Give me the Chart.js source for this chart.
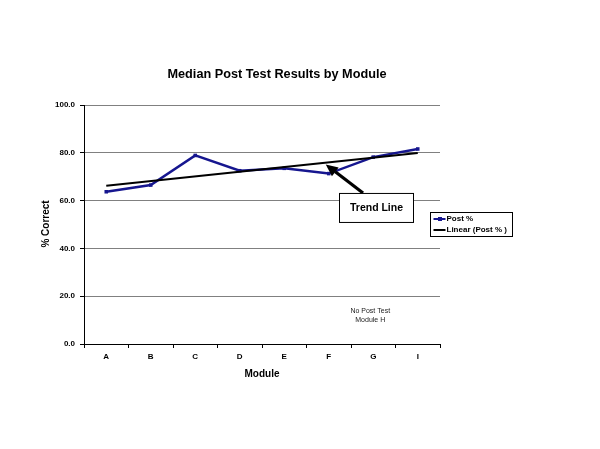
<!DOCTYPE html>
<html>
<head>
<meta charset="utf-8">
<script src="https://cdn.jsdelivr.net/npm/chart.js@4"></script>
<style>
html,body{margin:0;padding:0;background:#fff;}
#wrap{width:600px;height:449px;position:relative;}
</style>
</head>
<body>
<div id="wrap"><canvas id="c" width="600" height="449"></canvas></div>
<script>
const categories = ['A','B','C','D','E','F','G','I'];
const postPct = [63.7, 66.5, 78.9, 72.5, 73.5, 71.3, 78.2, 81.6];
const trendPct = [66.2, null, null, null, null, null, null, 79.9];
const yTicks = [0, 20, 40, 60, 80, 100];
const titleText = 'Median Post Test Results by Module';
const xTitle = 'Module';
const yTitle = '% Correct';
const seriesNames = ['Post %', 'Linear (Post % )'];
const FONT = '"Liberation Sans", Arial, sans-serif';
const SERIES_COLOR = '#16168f';

const overlay = {
  id: 'overlay',
  afterDraw(chart) {
    const ctx = chart.ctx;
    const a = chart.chartArea;
    const xs = chart.scales.x, ys = chart.scales.y;
    ctx.save();
    // title
    ctx.fillStyle = '#000';
    ctx.font = 'bold 12.7px ' + FONT;
    ctx.textAlign = 'center';
    ctx.textBaseline = 'middle';
    ctx.fillText(titleText, 277, 74);
    // axis titles
    ctx.font = 'bold 10px ' + FONT;
    ctx.fillText(xTitle, (a.left + a.right) / 2, 374);
    ctx.save();
    ctx.translate(46, 224);
    ctx.rotate(-Math.PI / 2);
    ctx.fillText(yTitle, 0, 0);
    ctx.restore();
    // note text
    ctx.font = '7px ' + FONT;
    ctx.fillStyle = '#222';
    const gx = xs.getPixelForValue(6) - 3;
    ctx.fillText('No Post Test', gx, ys.getPixelForValue(13.8));
    ctx.fillText('Module H', gx, ys.getPixelForValue(10.1));
    // arrow
    const fx = xs.getPixelForValue(5), gxx = xs.getPixelForValue(6);
    const tipX = fx - 3, tipY = ys.getPixelForValue(75.1);
    const tailX = fx + (gxx - fx) * 0.77, tailY = ys.getPixelForValue(63.2);
    const ang = Math.atan2(tipY - tailY, tipX - tailX);
    const hl = 12, hw = 5.5;
    const bx = tipX - hl * Math.cos(ang), by = tipY - hl * Math.sin(ang);
    ctx.strokeStyle = '#000';
    ctx.lineWidth = 3.2;
    ctx.beginPath();
    ctx.moveTo(tailX, tailY);
    ctx.lineTo(bx, by);
    ctx.stroke();
    ctx.fillStyle = '#000';
    ctx.beginPath();
    ctx.moveTo(tipX, tipY);
    ctx.lineTo(bx + hw * Math.sin(ang), by - hw * Math.cos(ang));
    ctx.lineTo(bx - hw * Math.sin(ang), by + hw * Math.cos(ang));
    ctx.closePath();
    ctx.fill();
    // text box
    const boxL = 339.5, boxT = tailY + 0.5, boxW = 74, boxH = 29;
    ctx.fillStyle = '#fff';
    ctx.fillRect(boxL, boxT, boxW, boxH);
    ctx.strokeStyle = '#000';
    ctx.lineWidth = 1;
    ctx.strokeRect(boxL, boxT, boxW, boxH);
    ctx.fillStyle = '#000';
    ctx.font = 'bold 10.5px ' + FONT;
    ctx.textAlign = 'center';
    ctx.fillText('Trend Line', boxL + boxW / 2, boxT + boxH / 2 + 0.5);
    // legend
    const lx = 430.5, ly = 212.5, lw = 82, lh = 24;
    ctx.fillStyle = '#fff';
    ctx.fillRect(lx, ly, lw, lh);
    ctx.strokeStyle = '#000';
    ctx.strokeRect(lx, ly, lw, lh);
    ctx.font = 'bold 8px ' + FONT;
    ctx.textAlign = 'left';
    ctx.fillStyle = '#000';
    const rows = [ly + 6.5, ly + 17.5];
    ctx.strokeStyle = SERIES_COLOR;
    ctx.lineWidth = 2;
    ctx.beginPath(); ctx.moveTo(lx + 3, rows[0]); ctx.lineTo(lx + 15, rows[0]); ctx.stroke();
    ctx.fillStyle = SERIES_COLOR;
    ctx.fillRect(lx + 7.5, rows[0] - 2, 4, 4);
    ctx.fillStyle = '#000';
    ctx.fillText(seriesNames[0], lx + 16, rows[0]);
    ctx.strokeStyle = '#000';
    ctx.beginPath(); ctx.moveTo(lx + 3, rows[1]); ctx.lineTo(lx + 15, rows[1]); ctx.stroke();
    ctx.fillText(seriesNames[1], lx + 16, rows[1]);
    ctx.restore();
  }
};

new Chart(document.getElementById('c'), {
  type: 'line',
  data: {
    labels: categories,
    datasets: [
      {
        label: seriesNames[0],
        data: postPct,
        borderColor: SERIES_COLOR,
        backgroundColor: SERIES_COLOR,
        borderWidth: 2.5,
        pointStyle: 'rect',
        pointRadius: 2.5,
        pointBorderWidth: 0,
        tension: 0,
        order: 2
      },
      {
        label: seriesNames[1],
        data: trendPct,
        spanGaps: true,
        borderColor: '#000',
        borderWidth: 2,
        pointRadius: 0,
        tension: 0,
        order: 1
      }
    ]
  },
  options: {
    responsive: false,
    animation: false,
    events: [],
    layout: { padding: { left: 40, right: 160, top: 105, bottom: 65 } },
    plugins: { legend: { display: false }, title: { display: false }, tooltip: { enabled: false } },
    scales: {
      x: {
        offset: true,
        grid: { offset: true, drawOnChartArea: false, drawTicks: true, tickLength: 4, color: '#000' },
        border: { color: '#000', width: 1 },
        ticks: { color: '#000', font: { family: FONT, size: 8, weight: 'bold' }, padding: 4, maxRotation: 0 },
        afterFit(s) { s.height = 40; }
      },
      y: {
        min: 0, max: 100,
        afterBuildTicks(s) { s.ticks = yTicks.map(v => ({ value: v })); },
        grid: { color: '#808080', tickColor: '#000', tickLength: 4, lineWidth: 1 },
        border: { color: '#000', width: 1 },
        ticks: { color: '#000', font: { family: FONT, size: 8, weight: 'bold' }, padding: 5,
                 callback: v => Number(v).toFixed(1) },
        afterFit(s) { s.width = 44; }
      }
    }
  },
  plugins: [overlay]
});
</script>
</body>
</html>
